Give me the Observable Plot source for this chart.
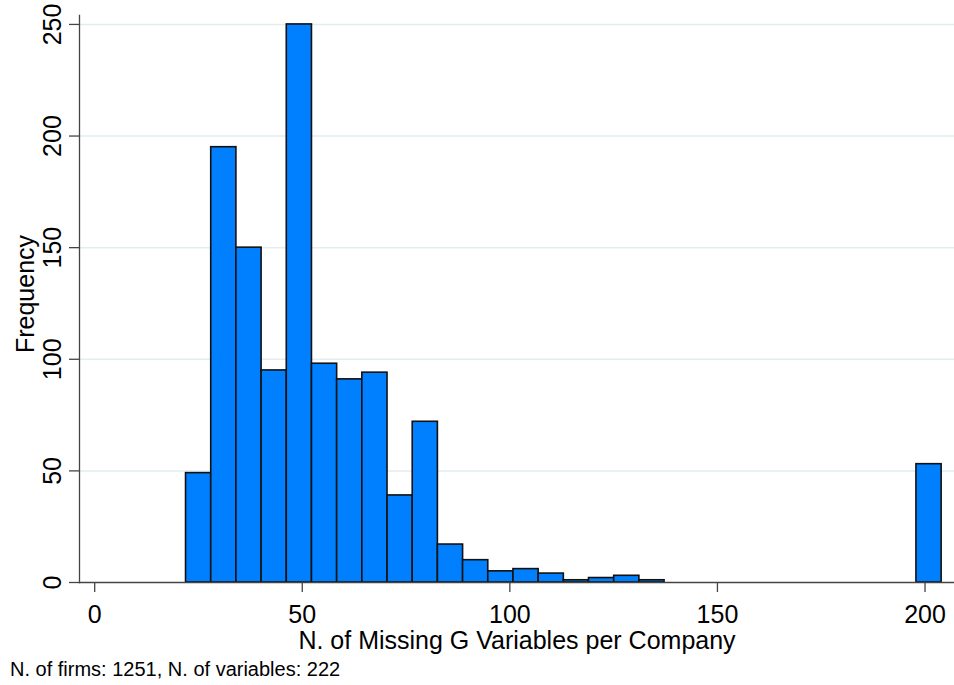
<!DOCTYPE html>
<html><head><meta charset="utf-8">
<script src="https://cdn.jsdelivr.net/npm/d3@7"></script>
<script src="https://cdn.jsdelivr.net/npm/@observablehq/plot@0.6"></script>
<style>
body{margin:0;background:#fff;font-family:Arial,"Liberation Sans",sans-serif;}
#caption{font-size:20px;padding-left:10px;padding-top:0px;line-height:23px;color:#000;white-space:nowrap}
</style></head><body>
<div id="chart"></div>
<div id="caption"></div>
<script>
// Histogram data (30 equal-width bins from min to max, Stata-style)
const binStart = 22;
const binEnd = 204;
const frequencies = [49, 195, 150, 95, 250, 98, 91, 94, 39, 72, 17, 10, 5, 6, 4, 1, 2, 3, 1, 0, 0, 0, 0, 0, 0, 0, 0, 0, 0, 53];
const xTicks = [0, 50, 100, 150, 200];
const yTicks = [0, 50, 100, 150, 200, 250];
const xLabel = "N. of Missing G Variables per Company";
const yLabel = "Frequency";
const captionText = "N. of firms: 1251, N. of variables: 222";

const nBins = frequencies.length;
const binWidth = (binEnd - binStart) / nBins;
const bins = frequencies
  .map((f, i) => ({x1: binStart + i * binWidth, x2: binStart + (i + 1) * binWidth, freq: f}))
  .filter(d => d.freq > 0);

const font = "Arial, 'Liberation Sans', sans-serif";
const chart = Plot.plot({
  width: 954,
  height: 658,
  marginLeft: 79,
  marginRight: 0,
  marginTop: 15,
  marginBottom: 76,
  style: {fontFamily: font, color: "#000", background: "#fff", overflow: "visible"},
  x: {domain: [-3.66, 207.1]},
  y: {domain: [0, 254]},
  marks: [
    Plot.ruleY(yTicks.filter(d => d > 0), {stroke: "#e3edf0", strokeWidth: 1.5}),
    Plot.rectY(bins, {x1: "x1", x2: "x2", y: "freq", fill: "#0080ff", stroke: "#111", strokeWidth: 1.6}),
    Plot.axisX({ticks: xTicks, tickSize: 10, tickPadding: 13, fontSize: 25, stroke: "#444", strokeWidth: 1.3, label: null, tickFormat: d => String(d)}),
    Plot.axisY({ticks: yTicks, tickSize: 10, tickPadding: 9, tickRotate: -90, fontSize: 25, stroke: "#444", strokeWidth: 1.3, label: null, tickFormat: d => String(d)}),
    Plot.frame({anchor: "left", stroke: "#444", strokeWidth: 1.3}),
    Plot.frame({anchor: "bottom", stroke: "#444", strokeWidth: 1.3}),
    Plot.text([xLabel], {frameAnchor: "bottom", dy: 58, fontSize: 25, lineAnchor: "middle", textAnchor: "middle", fill: "#000"}),
    Plot.text([yLabel], {frameAnchor: "left", dx: -54, dy: -5, rotate: -90, fontSize: 25, lineAnchor: "middle", textAnchor: "middle", fill: "#000"})
  ]
});
document.getElementById("chart").append(chart);
document.getElementById("caption").textContent = captionText;
</script>
</body></html>
